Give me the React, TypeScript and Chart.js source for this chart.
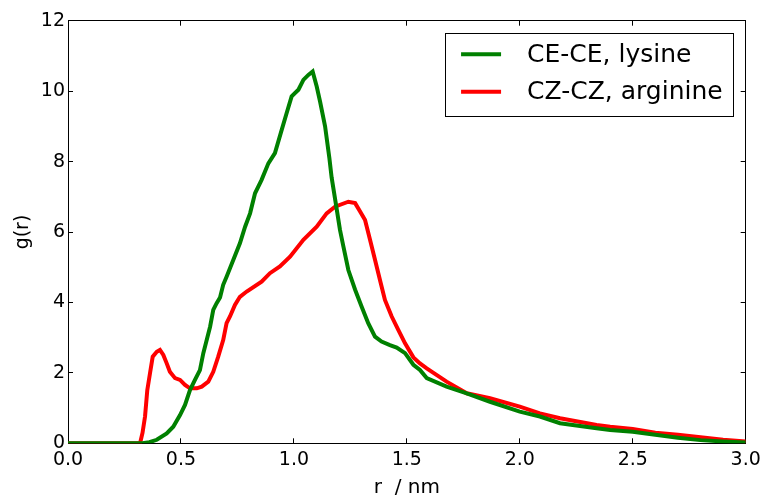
import React, { useEffect, useRef } from "react";
import { Chart, registerables } from "chart.js";

Chart.register(...registerables);

// CE-CE, lysine
const lysineR = [
  0, 0.33, 0.36, 0.393, 0.437, 0.466, 0.496, 0.518, 0.54, 0.562, 0.584, 0.599, 0.614, 0.629, 0.643, 0.658,
  0.673, 0.687, 0.702, 0.732, 0.761, 0.784, 0.806, 0.828, 0.857, 0.887, 0.916, 0.946, 0.968, 0.99, 1.02,
  1.042, 1.064, 1.083, 1.101, 1.116, 1.138, 1.157, 1.167, 1.19, 1.204, 1.219, 1.241, 1.271, 1.3, 1.329,
  1.359, 1.388, 1.425, 1.455, 1.492, 1.529, 1.558, 1.588, 1.676, 1.765, 1.868, 2.0, 2.089, 2.178, 2.34,
  2.4, 2.5, 2.6, 2.7, 2.8, 2.9, 3.0,
];
const lysineG = [
  0, 0, 0.03, 0.1, 0.28, 0.47, 0.8, 1.09, 1.51, 1.8, 2.08, 2.56, 2.93, 3.31, 3.79, 3.98,
  4.14, 4.5, 4.73, 5.21, 5.68, 6.15, 6.53, 7.1, 7.48, 7.95, 8.24, 8.9, 9.38, 9.85, 10.04,
  10.32, 10.46, 10.56, 10.13, 9.7, 9.0, 8.1, 7.55, 6.63, 6.06, 5.59, 4.92, 4.36, 3.88, 3.41,
  3.03, 2.89, 2.79, 2.72, 2.56, 2.23, 2.08, 1.85, 1.61, 1.42, 1.18, 0.9, 0.76, 0.57, 0.43,
  0.38, 0.33, 0.24, 0.16, 0.09, 0.05, 0.02,
];

// CZ-CZ, arginine
const arginineR = [
  0, 0.319, 0.33, 0.341, 0.351, 0.363, 0.375, 0.393, 0.407, 0.422, 0.437, 0.451, 0.474, 0.496, 0.518,
  0.54, 0.57, 0.592, 0.621, 0.643, 0.665, 0.687, 0.702, 0.717, 0.739, 0.761, 0.791, 0.857, 0.894, 0.938,
  0.983, 1.042, 1.101, 1.145, 1.182, 1.241, 1.271, 1.293, 1.315, 1.337, 1.359, 1.381, 1.403, 1.433,
  1.462, 1.492, 1.529, 1.558, 1.588, 1.676, 1.765, 1.868, 2.0, 2.089, 2.178, 2.34, 2.4, 2.5, 2.6, 2.7,
  2.8, 2.9, 3.0,
];
const arginineG = [
  0, 0, 0.3, 0.76, 1.51, 1.99, 2.46, 2.6, 2.65, 2.51, 2.27, 2.03, 1.85, 1.8, 1.66,
  1.56, 1.56, 1.61, 1.75, 2.03, 2.46, 2.93, 3.41, 3.6, 3.93, 4.16, 4.31, 4.59, 4.83, 5.02,
  5.3, 5.78, 6.15, 6.53, 6.72, 6.86, 6.82, 6.58, 6.34, 5.78, 5.21, 4.64, 4.07, 3.6,
  3.22, 2.84, 2.44, 2.27, 2.13, 1.75, 1.42, 1.28, 1.04, 0.85, 0.71, 0.52, 0.47, 0.41, 0.3, 0.24,
  0.17, 0.1, 0.05,
];

const seriesLabels = ["CE-CE, lysine", "CZ-CZ, arginine"];
const xTitle = "r  / nm";
const yTitle = "g(r)";

const FONT = "'DejaVu Sans', sans-serif";

const boxLegend = {
  id: "boxLegend",
  afterDraw(chart: any) {
    const { ctx, chartArea } = chart;
    const fontSize = 25;
    ctx.save();
    ctx.font = `${fontSize}px ${FONT}`;
    const widths = chart.data.datasets.map((d: any) => ctx.measureText(d.label).width);
    const maxW = Math.max(...widths);
    const lineStart = 16.5;
    const lineLen = 40;
    const textOff = 82.5;
    const width = textOff + maxW + 10;
    const rowGap = 37.4;
    const height = 83.4;
    const right = chartArea.right - 13;
    const top = chartArea.top + 12.6;
    const left = right - width;
    ctx.fillStyle = "#fff";
    ctx.fillRect(left, top, width, height);
    ctx.strokeStyle = "#000";
    ctx.lineWidth = 1;
    ctx.strokeRect(Math.round(left) + 0.5, Math.round(top) + 0.5, Math.round(width), Math.round(height));
    chart.data.datasets.forEach((d: any, i: number) => {
      const y = top + 21 + i * rowGap;
      ctx.strokeStyle = d.borderColor;
      ctx.lineWidth = 4;
      ctx.beginPath();
      ctx.moveTo(left + lineStart, y);
      ctx.lineTo(left + lineStart + lineLen, y);
      ctx.stroke();
      ctx.fillStyle = "#000";
      ctx.textBaseline = "middle";
      ctx.textAlign = "left";
      ctx.fillText(d.label, left + textOff, y + 1);
    });
    ctx.restore();
  },
};

export default function App() {
  const ref = useRef<HTMLCanvasElement | null>(null);
  useEffect(() => {
    if (!ref.current) return;
    Chart.defaults.color = "#000";
    Chart.defaults.font.family = FONT;
    const gridOpts = {
      drawOnChartArea: false,
      drawTicks: true,
      tickLength: -5,
      color: "#000",
      tickColor: "#000",
      lineWidth: 1,
    };
    const borderOpts = { display: true, color: "#000", width: 1 };
    const chart = new Chart(ref.current, {
      type: "line",
      data: {
        datasets: [
          {
            label: seriesLabels[0],
            data: lysineR.map((r, i) => ({ x: r, y: lysineG[i] })),
            borderColor: "#008000",
            backgroundColor: "#008000",
            borderWidth: 4,
            pointRadius: 0,
            tension: 0,
            xAxisID: "x",
            yAxisID: "y",
          },
          {
            label: seriesLabels[1],
            data: arginineR.map((r, i) => ({ x: r, y: arginineG[i] })),
            borderColor: "#ff0000",
            backgroundColor: "#ff0000",
            borderWidth: 4,
            pointRadius: 0,
            tension: 0,
            xAxisID: "x",
            yAxisID: "y",
          },
        ],
      },
      options: {
        responsive: false,
        animation: false,
        devicePixelRatio: 1,
        layout: { padding: { left: 0, right: 20.3, top: 20.7, bottom: 0 } },
        plugins: { legend: { display: false }, tooltip: { enabled: false } },
        scales: {
          x: {
            type: "linear",
            position: "bottom",
            min: 0,
            max: 3,
            grid: gridOpts,
            border: borderOpts,
            ticks: {
              stepSize: 0.5,
              padding: 10,
              maxRotation: 0,
              autoSkip: false,
              font: { size: 19 },
              callback: (v: any) => Number(v).toFixed(1),
            },
            title: {
              display: true,
              text: xTitle,
              font: { size: 20, lineHeight: 1 },
              padding: { top: 0, bottom: -1 },
            },
            afterFit: (s: any) => {
              s.height = 53.7;
              s.paddingLeft = 0;
              s.paddingRight = 0;
            },
          },
          x2: {
            type: "linear",
            position: "top",
            min: 0,
            max: 3,
            grid: gridOpts,
            border: borderOpts,
            ticks: { stepSize: 0.5, display: false },
            afterFit: (s: any) => {
              s.height = 0;
              s.paddingLeft = 0;
              s.paddingRight = 0;
            },
          },
          y: {
            type: "linear",
            position: "left",
            min: 0,
            max: 12,
            grid: gridOpts,
            border: borderOpts,
            ticks: { stepSize: 2, padding: 8, font: { size: 19 } },
            title: {
              display: true,
              text: yTitle,
              font: { size: 19, lineHeight: 1.2 },
              padding: { top: 12, bottom: 0 },
            },
            afterFit: (s: any) => {
              s.width = 68;
              s.paddingTop = 0;
              s.paddingBottom = 0;
            },
          },
          y2: {
            type: "linear",
            position: "right",
            min: 0,
            max: 12,
            grid: gridOpts,
            border: borderOpts,
            ticks: { stepSize: 2, display: false },
            afterFit: (s: any) => {
              s.width = 0;
              s.paddingTop = 0;
              s.paddingBottom = 0;
            },
          },
        },
      },
      plugins: [boxLegend],
    } as any);
    return () => chart.destroy();
  }, []);
  return (
    <canvas
      ref={ref}
      width={766}
      height={497}
      style={{ position: "absolute", left: 0, top: 0, display: "block" }}
    />
  );
}
